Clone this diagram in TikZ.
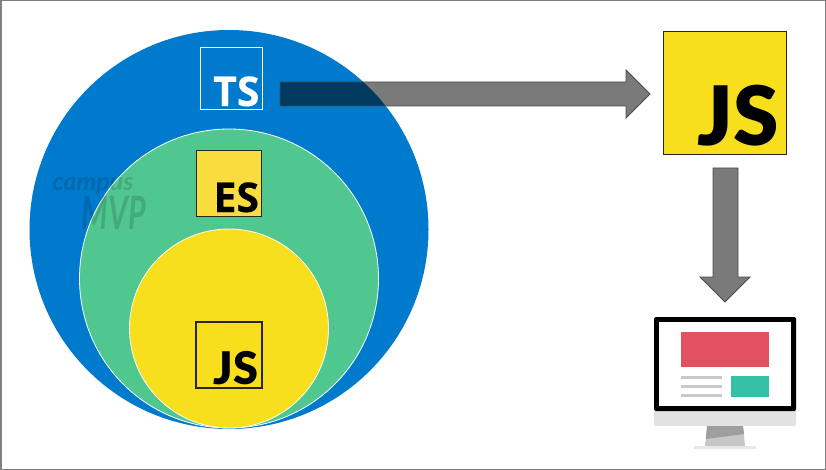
\documentclass[tikz,border=0pt]{standalone}
\usepackage{fontspec}
\setmainfont{Open Sans}
\newfontfamily\wmfont{Lato}
\newfontfamily\mvpfont{Lato}
\newfontfamily\jsfont{Lato Black}
\newfontfamily\esfont[FakeBold=0.4]{Open Sans Bold}
\usetikzlibrary{shapes.arrows}
\definecolor{tsblue}{HTML}{007ACC}
\definecolor{esgreen}{HTML}{50C78F}
\definecolor{jsyellow}{HTML}{F7DF1E}
\definecolor{esyellow}{HTML}{F9DC3E}
\definecolor{framegray}{HTML}{808080}
\definecolor{screenred}{HTML}{E25161}
\definecolor{screenteal}{HTML}{34C0A6}
\definecolor{chin}{HTML}{E1E2E3}
\definecolor{linegray}{HTML}{C9C9C9}
\tikzset{
  x=1pt,y=-1pt,
  ring/.style={circle,inner sep=0pt,outer sep=0pt,draw=white,line width=0.8pt},
  logo/.style={rectangle,inner sep=0pt,outer sep=0pt,line width=1.3pt,draw=black!85},
  logotext/.style={inner sep=0pt,outer sep=0pt},
  pipe/.style={draw=black!70,line width=0.8pt,fill=black,fill opacity=0.52},
  watermark/.style={inner sep=0pt,text opacity=0.14,text=black},
}
\begin{document}
\begin{tikzpicture}
\useasboundingbox (0,0) rectangle (826,470);
\draw[framegray,line width=1.5pt] (0.75,0.75) rectangle (825.25,469.25);
% circles
\node[ring,fill=tsblue,draw=none,minimum size=399pt] (outer) at (229,229.5) {};
\node[ring,fill=esgreen,minimum size=299pt] (middle) at (229,278.5) {};
\node[ring,fill=jsyellow,minimum size=199pt] (inner) at (229,328.5) {};
% watermark
\node[watermark,font=\wmfont\bfseries\itshape\fontsize{25}{25}\selectfont] (wmA) at (93,186) {campus};
\node[watermark,font=\mvpfont\bfseries\itshape\fontsize{46}{46}\selectfont,xscale=0.66] (wmB) at (114,213) {MVP};
% logos
\node[logo,draw=white,line width=1pt,fill=tsblue,minimum size=62pt] (ts) at (231,79) {};
\node[logotext,white,font=\esfont\fontsize{41}{41}\selectfont,anchor=base east] (tsT) at (259.5,106) {TS};
\node[logo,fill=esyellow,minimum size=65.5pt] (es) at (229,183.5) {};
\node[logotext,font=\esfont\fontsize{41}{41}\selectfont,anchor=base east] (esT) at (259,212) {ES};
\node[logo,fill=jsyellow,minimum size=66pt] (jsS) at (229,355) {};
\node[logotext,font=\jsfont\fontsize{45}{45}\selectfont,anchor=base east] (jsST) at (258,384) {JS};
\node[logo,fill=jsyellow,minimum size=123pt] (js) at (725,93) {};
\node[logotext,font=\jsfont\fontsize{82}{82}\selectfont,anchor=base east] (jsT) at (779,146) {JS};
% arrows
\draw[pipe] (280,82) -- (626,82) -- (626,70) -- (650,94) -- (626,118) -- (626,106) -- (280,106) -- cycle;
\draw[pipe] (713,168) -- (738,168) -- (738,277) -- (750,277) -- (725,302) -- (700,277) -- (713,277) -- cycle;
% monitor
\fill[chin,rounded corners=1.5pt] (654,405) rectangle (796,426);
\fill[black,rounded corners=1.5pt] (654,317) -- (796,317) -- (796,411) -- (654,411) -- cycle;
\fill[white] (658.7,321.7) rectangle (791.3,406.3);
\fill[screenred] (681,332) rectangle (769,367);
\fill[linegray] (681,376) rectangle (722,379);
\fill[linegray] (681,385) rectangle (722,388);
\fill[linegray] (681,394) rectangle (722,397);
\fill[screenteal] (731,376) rectangle (769,397);
\fill[black!22] (707,426) -- (743,426) -- (745,446) -- (705,446) -- cycle;
\fill[black!38] (707,426) -- (743,426) -- (744,434) -- (706,439) -- cycle;
\fill[black!9] (694,446) rectangle (756,449);
\end{tikzpicture}
\end{document}
